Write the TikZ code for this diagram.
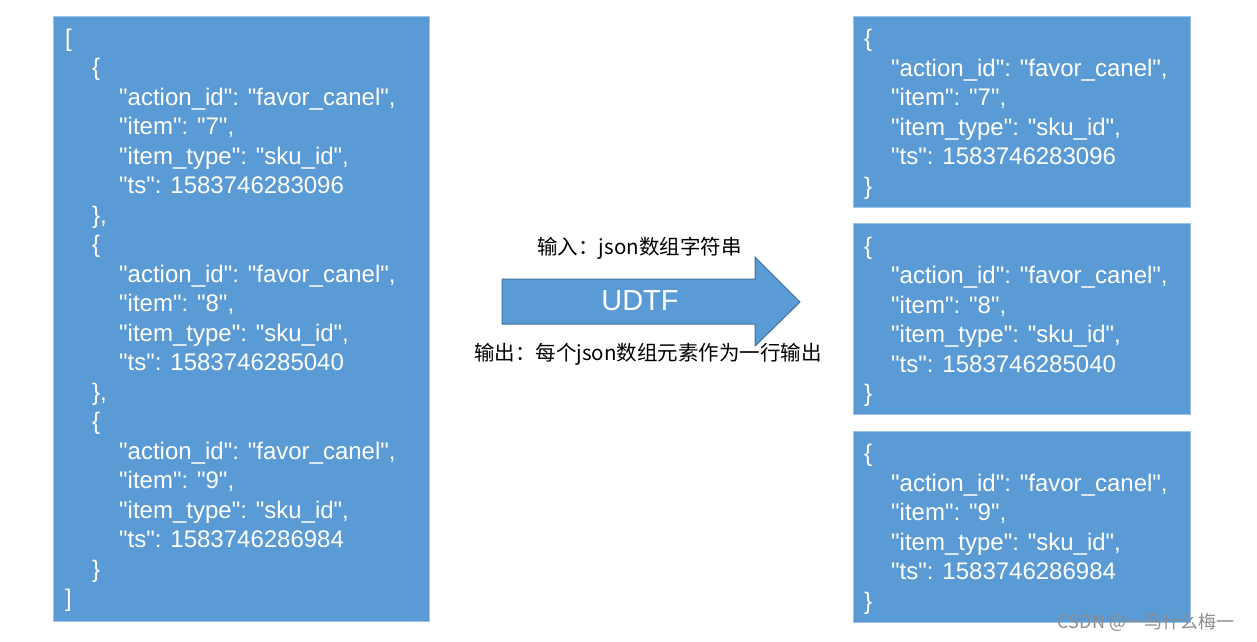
\documentclass[tikz,border=0pt]{standalone}
\usepackage{fontspec}
\setmainfont{Liberation Sans}
\newfontfamily\jsonfont{Liberation Sans}
\newfontfamily\cjkfont{Noto Sans CJK SC}

\definecolor{jsonblue}{HTML}{5B9BD5}
\definecolor{jsonedge}{HTML}{9DC3E6}
\definecolor{arrowedge}{HTML}{41719C}

\tikzset{jbox/.style = {fill = jsonblue,
                        draw = jsonedge,
                        line width = 1pt},
         jtext/.style = {text = white,
                         anchor = north west,
                         inner sep = 0pt,
                         align = left,
                         font = \jsonfont\fontsize{24}{29.5}\selectfont},
         note/.style = {inner sep = 0pt,
                        font = \cjkfont\fontsize{20.5}{24}\selectfont}}

% one record, #1 = indent of the braces
\newcommand{\jrec}[4]{\hspace*{#1}\{\\
  \hspace*{\dimexpr#1+27pt\relax}"action\_id": "favor\_canel",\\
  \hspace*{\dimexpr#1+27pt\relax}"item": "#2",\\
  \hspace*{\dimexpr#1+27pt\relax}"item\_type": "sku\_id",\\
  \hspace*{\dimexpr#1+27pt\relax}"ts": #3\\
  \hspace*{#1}\}#4}

\begin{document}
\begin{tikzpicture}[x = 1pt, y = -1pt]
	\useasboundingbox (0,0) rectangle (1257,641);
	% input array
	\draw[jbox] (53,16) rectangle (429,621);
	\node[jtext] (arr) at (65,25.35) {\strut[\\
		\jrec{27pt}{7}{1583746283096}{,}\\
		\jrec{27pt}{8}{1583746285040}{,}\\
		\jrec{27pt}{9}{1583746286984}{}\\
		]};
	% output rows
	\draw[jbox] (853,16) rectangle (1190,207);
	\draw[jbox] (853,223) rectangle (1190,414);
	\draw[jbox] (853,431) rectangle (1190,622);
	\node[jtext] (row1) at (864,25.85) {\strut\jrec{0pt}{7}{1583746283096}{}};
	\node[jtext] (row2) at (864,233.35) {\strut\jrec{0pt}{8}{1583746285040}{}};
	\node[jtext] (row3) at (864,440.85) {\strut\jrec{0pt}{9}{1583746286984}{}};
	% the function
	\draw[fill = jsonblue, draw = arrowedge, line width = 1pt]
		(502,279) -- (755,279) -- (755,257) -- (800,302)
		-- (755,346) -- (755,324) -- (502,324) -- cycle;
	\node[text = white, font = \fontsize{29}{34}\selectfont] (udtf) at (640,301) {UDTF};
	\node[note] (input) at (639.5,248) {输入：json数组字符串};
	\node[note] (output) at (648,354) {输出：每个json数组元素作为一行输出};
	\node[text = black!45, inner sep = 0pt, font = \cjkfont\fontsize{18}{20}\selectfont] (mark) at (1146,622) {CSDN @一马什么梅一};
\end{tikzpicture}
\end{document}
